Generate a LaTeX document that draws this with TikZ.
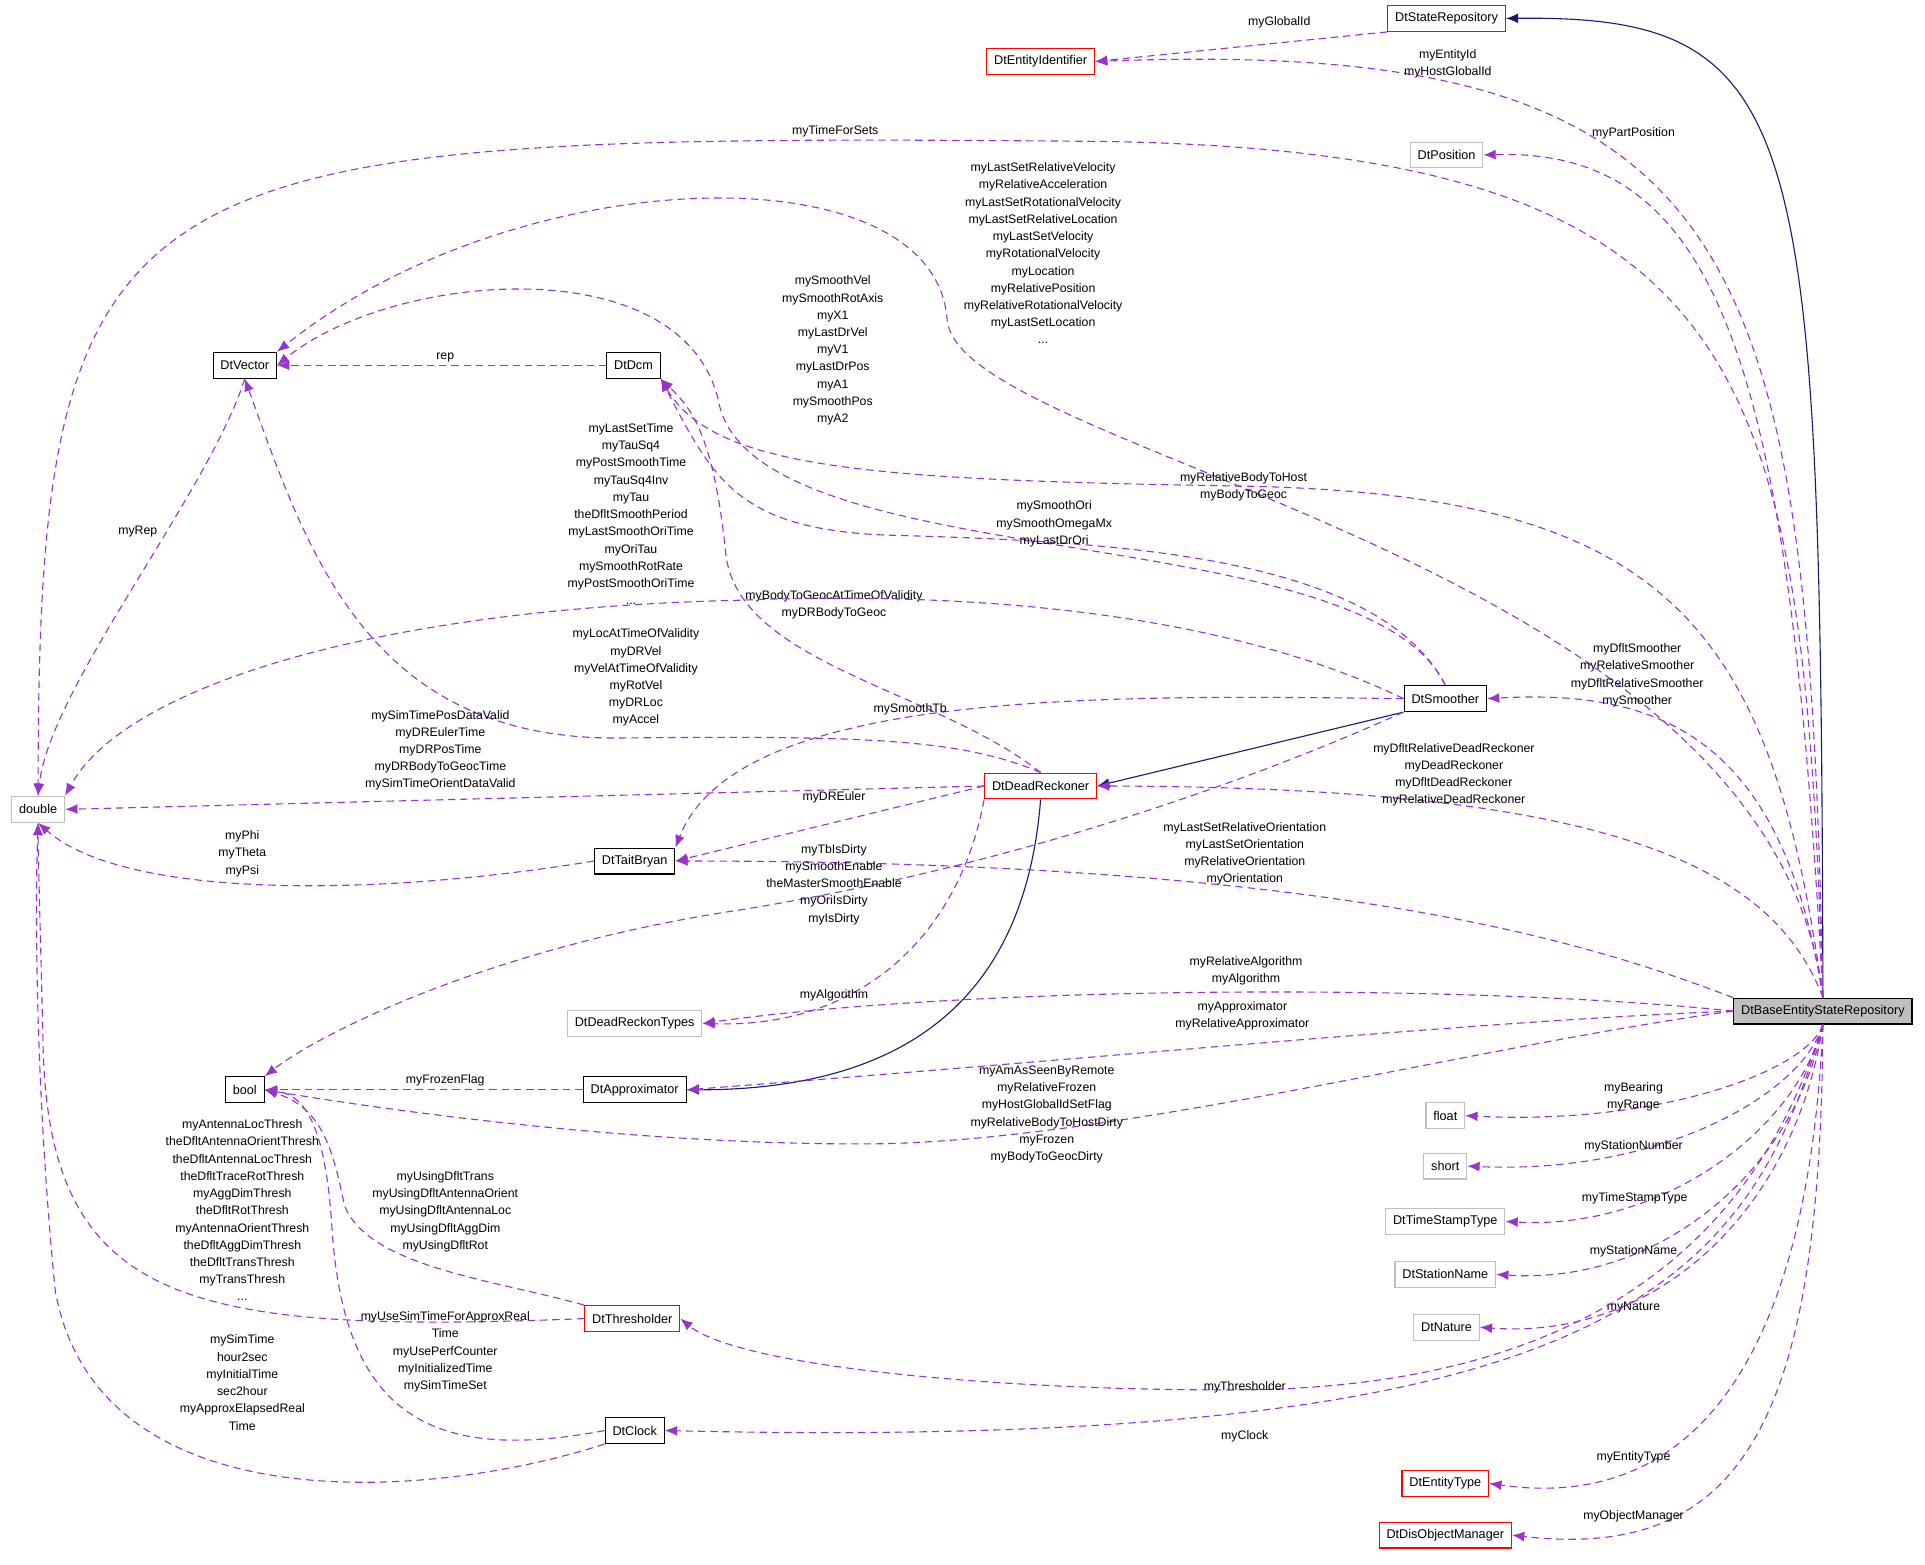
\documentclass[tikz,border=0pt]{standalone}
\usepackage{fontspec}
\setmainfont{Liberation Sans}
\usepackage{tikz}
\usetikzlibrary{arrows.meta}
\definecolor{relcol}{HTML}{9A32CD}
\definecolor{inhcol}{HTML}{191970}
\definecolor{boxgray}{HTML}{BFBFBF}
\tikzset{
  box/.style={draw, line width=0.9pt, rectangle, minimum height=21pt, inner xsep=6pt, inner ysep=2pt, font=\fontsize{10.3}{12}\selectfont},
  redbox/.style={box, draw=red},
  graybox/.style={box, draw=boxgray},
  rel/.style={relcol, line width=0.9pt, dash pattern=on 6pt off 4pt, -{Latex[length=10pt,width=8pt]}},
  inh/.style={inhcol, line width=0.9pt, -{Latex[length=10pt,width=8pt]}},
  lbl/.style={align=center, font=\fontsize{10}{14}\selectfont}
}
\begin{document}
\begin{tikzpicture}[x=1pt, y=-1pt]
\useasboundingbox (0,0) rectangle (1565,1272);

% classes
\node[redbox] (srep) at (1176,15) {DtStateRepository};
\node[redbox] (eid) at (846,50) {DtEntityIdentifier};
\node[graybox] (pos) at (1176,126) {DtPosition};
\node[box] (vec) at (199,297) {DtVector};
\node[box] (dcm) at (515,297) {DtDcm};
\node[graybox] (dbl) at (31,658) {double};
\node[box] (smo) at (1175,568) {DtSmoother};
\node[redbox] (dr) at (846,639) {DtDeadReckoner};
\node[box] (tb) at (516,700) {DtTaitBryan};
\node[graybox] (drt) at (516,832) {DtDeadReckonTypes};
\node[box] (bool) at (199,886) {bool};
\node[box] (appr) at (516,886) {DtApproximator};
\node[box, fill=boxgray] (base) at (1482,822) {DtBaseEntityStateRepository};
\node[graybox] (flt) at (1175,907) {float};
\node[graybox] (sht) at (1175,948) {short};
\node[graybox] (tst) at (1175,993) {DtTimeStampType};
\node[graybox] (stn) at (1175,1036) {DtStationName};
\node[graybox] (nat) at (1176,1079) {DtNature};
\node[redbox] (thr) at (514,1072) {DtThresholder};
\node[box] (clk) at (516,1163) {DtClock};
\node[redbox] (ety) at (1175,1206) {DtEntityType};
\node[redbox] (dom) at (1175,1248) {DtDisObjectManager};

% inheritance
\draw[inh] (base.north) .. controls (1480,100) and (1470,12) .. (srep.east);
\draw[inh] (smo.south west) -- (dr.east);
\draw[inh] (dr.south) .. controls (835,790) and (760,886) .. (appr.east);

% members
\draw[rel] (srep.south west) -- (eid.east);
\node[lbl] (l1) at (1040,18) {myGlobalId};
\draw[rel] (base.north) .. controls (1470,200) and (1420,30) .. (eid.east);
\node[lbl] (l2) at (1177,52) {myEntityId\\myHostGlobalId};
\draw[rel] (base.north) .. controls (1465,300) and (1430,125) .. (900,115) .. controls (100,108) and (31,120) .. (dbl.north);
\node[lbl] (l3) at (679,107) {myTimeForSets};
\draw[rel] (base.north) .. controls (1455,300) and (1400,120) .. (pos.east);
\node[lbl] (l4) at (1328,108) {myPartPosition};
\draw[rel] (base.north) .. controls (1440,450) and (780,370) .. (770,260) .. controls (760,120) and (420,130) .. (vec.north east);
\node[lbl] (l5) at (848,206) {myLastSetRelativeVelocity\\myRelativeAcceleration\\myLastSetRotationalVelocity\\myLastSetRelativeLocation\\myLastSetVelocity\\myRotationalVelocity\\myLocation\\myRelativePosition\\myRelativeRotationalVelocity\\myLastSetLocation\\...};
\draw[rel] (smo.north) .. controls (1110,420) and (620,470) .. (585,330) .. controls (560,200) and (320,220) .. (vec.east);
\node[lbl] (l6) at (677,285) {mySmoothVel\\mySmoothRotAxis\\myX1\\myLastDrVel\\myV1\\myLastDrPos\\myA1\\mySmoothPos\\myA2};
\draw[rel] (dcm.west) -- (vec.east);
\node[lbl] (l7) at (362,291) {rep};
\draw[rel] (vec.south) .. controls (170,400) and (40,560) .. (dbl.north);
\node[lbl] (l8) at (112,432) {myRep};
\draw[rel] (base.north) .. controls (1440,500) and (1350,400) .. (1000,395) .. controls (700,390) and (580,380) .. (dcm.south east);
\node[lbl] (l9) at (1011,396) {myRelativeBodyToHost\\myBodyToGeoc};
\draw[rel] (smo.north) .. controls (1120,450) and (900,440) .. (720,435) .. controls (600,430) and (580,390) .. (dcm.south east);
\node[lbl] (l10) at (857,426) {mySmoothOri\\mySmoothOmegaMx\\myLastDrOri};
\draw[rel] (dr.north) .. controls (760,560) and (600,540) .. (590,450) .. controls (580,350) and (560,330) .. (dcm.south east);
\node[lbl] (l11) at (678,492) {myBodyToGeocAtTimeOfValidity\\myDRBodyToGeoc};
\draw[rel] (smo.west) .. controls (1000,500) and (800,480) .. (600,488) .. controls (300,495) and (100,560) .. (dbl.north east);
\node[lbl] (l12) at (513,418) {myLastSetTime\\myTauSq4\\myPostSmoothTime\\myTauSq4Inv\\myTau\\theDfltSmoothPeriod\\myLastSmoothOriTime\\myOriTau\\mySmoothRotRate\\myPostSmoothOriTime\\...};
\draw[rel] (dr.north) .. controls (780,600) and (700,598) .. (500,600) .. controls (300,600) and (250,450) .. (vec.south);
\node[lbl] (l13) at (517,551) {myLocAtTimeOfValidity\\myDRVel\\myVelAtTimeOfValidity\\myRotVel\\myDRLoc\\myAccel};
\draw[rel] (dr.west) -- (dbl.east);
\node[lbl] (l14) at (358,610) {mySimTimePosDataValid\\myDREulerTime\\myDRPosTime\\myDRBodyToGeocTime\\mySimTimeOrientDataValid};
\draw[rel] (smo.west) .. controls (900,565) and (600,560) .. (tb.north east);
\node[lbl] (l15) at (740,577) {mySmoothTb};
\draw[rel] (dr.west) -- (tb.east);
\node[lbl] (l16) at (678,648) {myDREuler};
\draw[rel] (tb.west) .. controls (300,730) and (100,730) .. (dbl.south);
\node[lbl] (l17) at (197,694) {myPhi\\myTheta\\myPsi};
\draw[rel] (base.north) .. controls (1450,600) and (1350,560) .. (smo.east);
\node[lbl] (l18) at (1331,549) {myDfltSmoother\\myRelativeSmoother\\myDfltRelativeSmoother\\mySmoother};
\draw[rel] (base.north) .. controls (1440,700) and (1300,640) .. (dr.east);
\node[lbl] (l19) at (1182,630) {myDfltRelativeDeadReckoner\\myDeadReckoner\\myDfltDeadReckoner\\myRelativeDeadReckoner};
\draw[rel] (base.north west) .. controls (1300,770) and (1100,700) .. (tb.east);
\node[lbl] (l20) at (1012,694) {myLastSetRelativeOrientation\\myLastSetOrientation\\myRelativeOrientation\\myOrientation};
\draw[rel] (smo.south west) .. controls (1050,620) and (850,700) .. (600,740) .. controls (400,770) and (260,840) .. (bool.north east);
\node[lbl] (l21) at (678,719) {myTbIsDirty\\mySmoothEnable\\theMasterSmoothEnable\\myOriIsDirty\\myIsDirty};
\draw[rel] (base.west) .. controls (1200,800) and (800,800) .. (drt.east);
\node[lbl] (l22) at (1013,789) {myRelativeAlgorithm\\myAlgorithm};
\draw[rel] (dr.south west) .. controls (780,760) and (700,836) .. (drt.east);
\node[lbl] (l23) at (678,809) {myAlgorithm};
\draw[rel] (base.west) .. controls (1200,830) and (900,860) .. (appr.east);
\node[lbl] (l24) at (1010,826) {myApproximator\\myRelativeApproximator};
\draw[rel] (appr.west) -- (bool.east);
\node[lbl] (l25) at (362,878) {myFrozenFlag};
\draw[rel] (base.west) .. controls (1200,850) and (900,930) .. (700,930) .. controls (500,930) and (300,900) .. (bool.east);
\node[lbl] (l26) at (851,906) {myAmAsSeenByRemote\\myRelativeFrozen\\myHostGlobalIdSetFlag\\myRelativeBodyToHostDirty\\myFrozen\\myBodyToGeocDirty};
\draw[rel] (base.south) .. controls (1470,870) and (1350,915) .. (flt.east);
\node[lbl] (l27) at (1328,892) {myBearing\\myRange};
\draw[rel] (base.south) .. controls (1465,890) and (1350,955) .. (sht.east);
\node[lbl] (l28) at (1328,932) {myStationNumber};
\draw[rel] (base.south) .. controls (1460,920) and (1350,1000) .. (tst.east);
\node[lbl] (l29) at (1329,974) {myTimeStampType};
\draw[rel] (base.south) .. controls (1460,950) and (1350,1045) .. (stn.east);
\node[lbl] (l30) at (1328,1017) {myStationName};
\draw[rel] (base.south) .. controls (1460,980) and (1350,1090) .. (nat.east);
\node[lbl] (l31) at (1328,1063) {myNature};
\draw[rel] (base.south) .. controls (1430,1000) and (1300,1130) .. (1000,1130) .. controls (800,1130) and (600,1110) .. (thr.east);
\node[lbl] (l32) at (1012,1128) {myThresholder};
\draw[rel] (thr.north west) .. controls (400,1040) and (300,1030) .. (280,980) .. controls (270,930) and (260,900) .. (bool.east);
\node[lbl] (l33) at (362,985) {myUsingDfltTrans\\myUsingDfltAntennaOrient\\myUsingDfltAntennaLoc\\myUsingDfltAggDim\\myUsingDfltRot};
\draw[rel] (thr.west) .. controls (150,1085) and (40,1060) .. (35,850) .. controls (33,760) and (31,700) .. (dbl.south);
\node[lbl] (l34) at (197,984) {myAntennaLocThresh\\theDfltAntennaOrientThresh\\theDfltAntennaLocThresh\\theDfltTraceRotThresh\\myAggDimThresh\\theDfltRotThresh\\myAntennaOrientThresh\\theDfltAggDimThresh\\theDfltTransThresh\\myTransThresh\\...};
\draw[rel] (clk.west) .. controls (350,1190) and (280,1150) .. (270,1000) .. controls (265,920) and (250,890) .. (bool.east);
\node[lbl] (l35) at (362,1099) {myUseSimTimeForApproxReal\\Time\\myUsePerfCounter\\myInitializedTime\\mySimTimeSet};
\draw[rel] (clk.south west) .. controls (350,1220) and (80,1240) .. (45,1050) .. controls (30,900) and (28,750) .. (dbl.south);
\node[lbl] (l36) at (197,1124) {mySimTime\\hour2sec\\myInitialTime\\sec2hour\\myApproxElapsedReal\\Time};
\draw[rel] (base.south) .. controls (1420,1050) and (1300,1180) .. (clk.east);
\node[lbl] (l37) at (1012,1168) {myClock};
\draw[rel] (base.south) .. controls (1470,1100) and (1380,1230) .. (ety.east);
\node[lbl] (l38) at (1328,1185) {myEntityType};
\draw[rel] (base.south) .. controls (1480,1150) and (1420,1270) .. (dom.east);
\node[lbl] (l39) at (1328,1233) {myObjectManager};
\end{tikzpicture}
\end{document}
